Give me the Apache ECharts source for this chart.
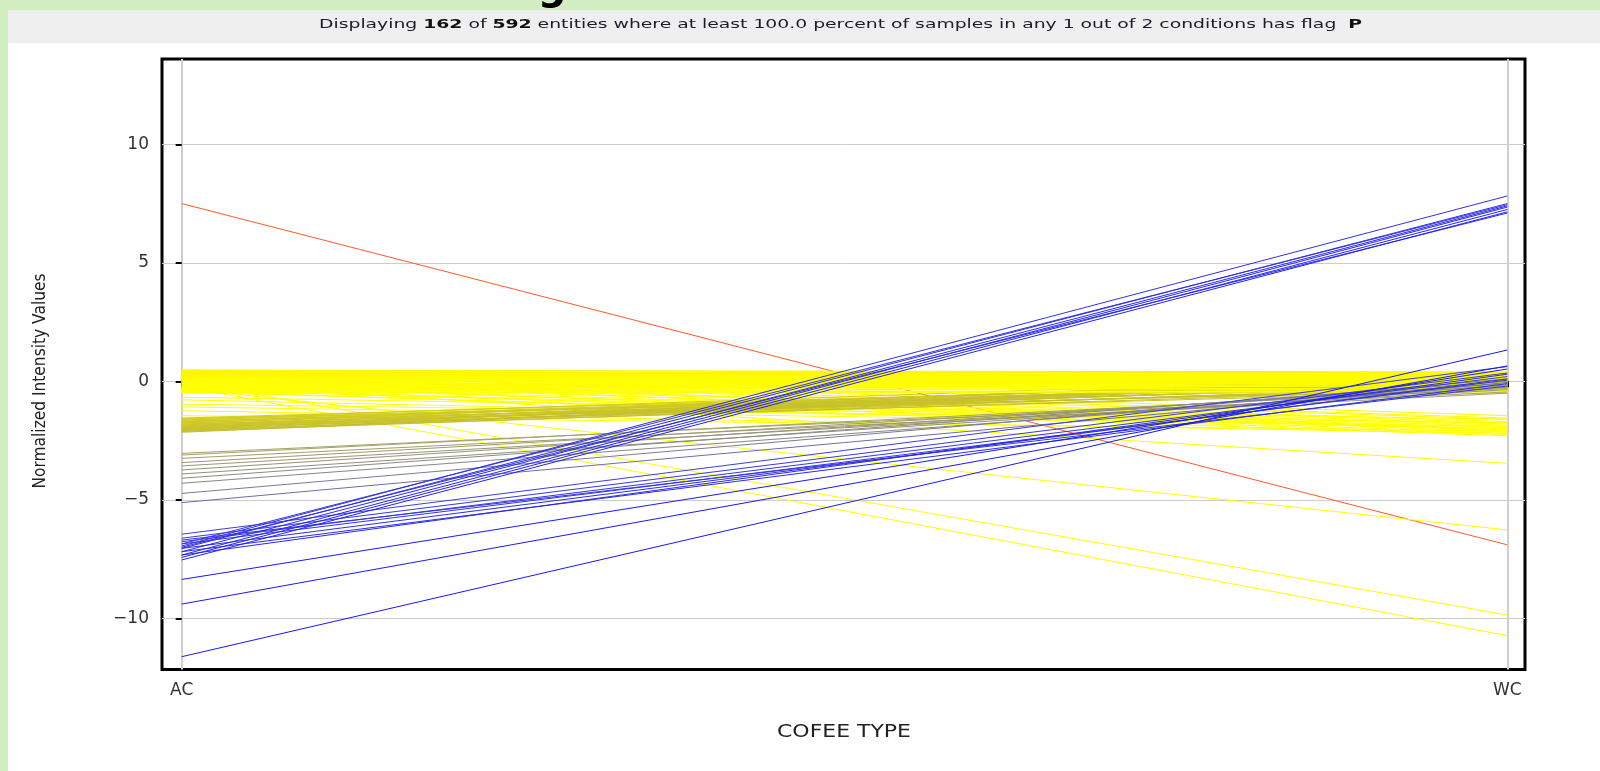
<!DOCTYPE html>
<html>
<head>
<meta charset="utf-8">
<script src="https://cdn.jsdelivr.net/npm/echarts@6/dist/echarts.min.js"></script>
<style>
  html, body { margin: 0; padding: 0; background: #d3eec2; }
  #chart { width: 1600px; height: 771px; }
</style>
</head>
<body>
<div id="chart"></div>
<script>
// Conditions on the x axis and tick values on the y axis
const categories = ['AC', 'WC'];
const yTicks = [-10, -5, 0, 5, 10];

// Entity profiles: normalized intensity at AC and at WC
const acRed = [7.5];
const wcRed = [-6.9];

const acBlueUp = [-6.95, -7.05, -6.86, -7.19, -7.33, -7.43, -7.54, -7.0];
const wcBlueUp = [7.82, 7.5, 7.45, 7.4, 7.35, 7.25, 7.15, 7.1];

const acBlueLow = [-6.45, -6.62, -6.77, -6.86, -7.05, -7.19, -7.33, -6.7, -8.36, -9.40, -11.62];
const wcBlueLow = [0.62, 0.35, 0.2, 0.05, 0.1, -0.1, 0.3, -0.2, 0.52, 0.65, 1.32];

const acGray = [-3.04, -3.11, -3.25, -3.43, -3.57, -3.74, -3.91, -4.09, -4.3, -4.73, -5.12];
const wcGray = [-0.45, -0.3, -0.5, -0.2, -0.35, -0.1, -0.25, 0.0, -0.15, 0.1, -0.05];

const acOlive = [-1.55, -1.58, -1.6, -1.63, -1.65, -1.68, -1.7, -1.72, -1.75, -1.77,
                 -1.8, -1.82, -1.84, -1.86, -1.88, -1.9, -1.92, -1.94, -1.96, -1.98,
                 -2.0, -2.02, -2.04, -2.06, -2.08, -2.1, -2.12, -2.15];
const wcOlive = [0.1, -0.2, 0.3, -0.05, 0.15, -0.35, 0.05, 0.2, -0.15, 0.25,
                 -0.3, 0.0, 0.1, -0.25, 0.3, -0.1, 0.05, -0.4, 0.2, -0.2,
                 0.15, -0.05, 0.35, -0.3, 0.0, 0.1, -0.15, 0.25];

const acYellowMid = [-0.67, -0.78, -0.96, -1.08, -1.24, -1.45];
const wcYellowMid = [-1.6, -2.0, -1.75, -1.9, -2.2, -2.1];

const acYellowFlat = [0.48, 0.46, 0.45, 0.43, 0.42, 0.40, 0.38, 0.37, 0.35, 0.33,
                      0.32, 0.30, 0.28, 0.27, 0.25, 0.23, 0.22, 0.20, 0.18, 0.17,
                      0.15, 0.13, 0.12, 0.10, 0.08, 0.07, 0.05, 0.03, 0.02, 0.00,
                      -0.02, -0.03, -0.05, -0.07, -0.08, -0.10, -0.12, -0.13, -0.15, -0.17,
                      -0.18, -0.20, -0.22, -0.23, -0.25, -0.27, -0.28, -0.30, -0.32, -0.33,
                      -0.35, -0.37, -0.38, -0.40, -0.42, -0.43, -0.45, -0.47, -0.48, -0.50,
                      0.41, 0.19, -0.06, -0.26, -0.44];
const wcYellowFlat = [0.35, 0.20, 0.40, 0.10, 0.30, -0.10, 0.25, 0.05, 0.38, 0.15,
                      -0.20, 0.30, 0.00, 0.22, -0.05, 0.32, 0.12, -0.30, 0.28, 0.08,
                      0.36, -0.15, 0.18, 0.02, 0.26, -0.25, 0.14, 0.33, -0.08, 0.20,
                      0.06, -0.35, 0.24, 0.10, -0.12, 0.30, 0.00, -0.40, 0.16, 0.04,
                      -0.22, 0.27, -0.02, 0.12, -0.32, 0.20, 0.08, -0.18, 0.34, -0.06,
                      0.14, -0.45, 0.22, 0.02, -0.28, 0.10, -0.10, 0.30, -0.38, 0.06,
                      0.18, -0.16, 0.26, -0.04, -0.50];

const acYellowDown = [0.4, 0.3, 0.2, 0.1, 0.05, -0.05, -0.15, -0.2, -0.3, -0.35, -0.45, 0.35, 0.15, -0.1, -0.25, -0.4];
const wcYellowDown = [-1.45, -1.55, -1.6, -1.7, -1.75, -1.8, -1.85, -1.9, -1.95, -2.0, -2.05, -2.1, -2.15, -2.2, -2.25, -2.3];

const acYellowFar = [-0.1, -0.3, 0.0, -0.2];
const wcYellowFar = [-3.46, -6.27, -9.86, -10.73];

// Colour ramp keyed on the AC value (blue low, yellow middle, red high)
const rampStops = [
  [-8.0, [25, 25, 245]],
  [-6.5, [60, 60, 220]],
  [-5.1, [110, 110, 172]],
  [-4.3, [135, 135, 140]],
  [-3.0, [168, 164, 100]],
  [-2.2, [196, 190, 48]],
  [-1.55, [212, 206, 30]],
  [-1.45, [255, 255, 0]],
  [0.0, [255, 255, 0]],
  [7.5, [255, 88, 40]]
];
function rampColor(v) {
  if (v <= rampStops[0][0]) return rgb(rampStops[0][1]);
  for (let i = 1; i < rampStops.length; i++) {
    const [v1, c1] = rampStops[i];
    if (v <= v1) {
      const [v0, c0] = rampStops[i - 1];
      const t = (v - v0) / (v1 - v0);
      return rgb(c0.map((c, k) => c + (c1[k] - c) * t));
    }
  }
  return rgb(rampStops[rampStops.length - 1][1]);
}
function rgb(c) { return 'rgb(' + c.map(Math.round).join(',') + ')'; }

// Painting order: red underneath, falling yellow profiles under the olive band,
// flat yellow profiles over it, gray and blue on top
const groups = [
  [acRed, wcRed], [acYellowDown, wcYellowDown], [acYellowMid, wcYellowMid],
  [acYellowFar, wcYellowFar], [acOlive, wcOlive], [acYellowFlat, wcYellowFlat],
  [acGray, wcGray], [acBlueLow, wcBlueLow], [acBlueUp, wcBlueUp]
];
const profiles = [];
groups.forEach(([ac, wc]) => {
  const g = ac.map((a, i) => [a, wc[i]]);
  g.sort((p, q) => q[0] - p[0]);
  profiles.push(...g);
});

const series = profiles.map(([a, w]) => ({
  type: 'line',
  data: [[0, a], [1, w]],
  symbol: 'none',
  silent: true,
  animation: false,
  lineStyle: { color: rampColor(a), width: 1 }
}));

// Plot frame geometry
const gridLeft = 162, gridRight = 75, gridTop = 59, gridBottom = 101.5;
const xMin = -0.01486, xMax = 1.01335;
const yMin = -12.16, yMax = 13.6;

// Text measurement for the stretched labels
const mctx = document.createElement('canvas').getContext('2d');
function textWidth(str, font) { mctx.font = font; return mctx.measureText(str).width; }

const fam = '"DejaVu Sans", sans-serif';
const headParts = [
  ['Displaying ', false], ['162', true], [' of ', false], ['592', true],
  [' entities where at least 100.0 percent of samples in any 1 out of 2 conditions has flag  ', false],
  ['P', true]
];
const headSize = 13;
let headW = 0;
headParts.forEach(([s, b]) => { headW += textWidth(s, (b ? 'bold ' : '') + headSize + 'px ' + fam); });
const headText = headParts.map(([s, b]) => b ? '{b|' + s + '}' : '{n|' + s + '}').join('');

const yTitle = 'Normalized Intensity Values';
const yTitleSize = 18;
const yTitleScale = 215 / textWidth(yTitle, yTitleSize + 'px ' + fam);

const xTitle = 'COFEE TYPE';
const xTitleSize = 18;
const xTitleScale = 134 / textWidth(xTitle, xTitleSize + 'px ' + fam);

const chart = echarts.init(document.getElementById('chart'), null, { renderer: 'canvas' });
chart.setOption({
  backgroundColor: '#d3eec2',
  animation: false,
  grid: {
    left: gridLeft, right: gridRight, top: gridTop, bottom: gridBottom,
    show: true, borderColor: '#000', borderWidth: 3, backgroundColor: '#fff'
  },
  xAxis: {
    type: 'value', min: xMin, max: xMax, interval: 1,
    axisLine: { show: false },
    axisTick: { show: true, customValues: [0, 1], length: 6, inside: false, lineStyle: { color: '#000', width: 2 } },
    axisLabel: {
      customValues: [0, 1], formatter: v => categories[Math.round(v)] || '',
      color: '#333', fontFamily: fam, fontSize: 17, margin: 13
    },
    splitLine: { show: true, lineStyle: { color: '#cfcfcf', width: 2 } }
  },
  yAxis: {
    type: 'value', min: yMin, max: yMax, interval: 5,
    axisLine: { show: false },
    axisTick: { show: true, customValues: yTicks, length: 6, lineStyle: { color: '#000', width: 2 } },
    axisLabel: {
      customValues: yTicks,
      formatter: v => (v < 0 ? '\u2212' + Math.abs(v) : String(v)),
      color: '#333', fontFamily: fam, fontSize: 17, margin: 13
    },
    splitLine: { show: true, lineStyle: { color: '#cccccc', width: 1 } }
  },
  graphic: [
    { type: 'rect', z: -10, shape: { x: 8, y: 10, width: 1592, height: 761 }, style: { fill: '#ffffff' } },
    { type: 'rect', z: -9, shape: { x: 8, y: 10, width: 1592, height: 33 }, style: { fill: '#efefef' } },
    {
      type: 'text', z: 10, x: 840.5, y: 25, scaleX: 1043 / headW,
      style: {
        text: headText, align: 'center', verticalAlign: 'middle',
        rich: {
          n: { fontSize: headSize, fontFamily: fam, fill: '#1c1c2a' },
          b: { fontSize: headSize, fontFamily: fam, fontWeight: 'bold', fill: '#111' }
        }
      }
    },
    {
      type: 'text', z: 10, x: 40, y: 381, rotation: Math.PI / 2, scaleX: yTitleScale,
      style: { text: yTitle, align: 'center', verticalAlign: 'middle', fontSize: yTitleSize, fontFamily: fam, fill: '#222' }
    },
    {
      type: 'text', z: 10, x: 844, y: 732, scaleX: xTitleScale,
      style: { text: xTitle, align: 'center', verticalAlign: 'middle', fontSize: xTitleSize, fontFamily: fam, fill: '#222' }
    },
    {
      type: 'text', z: -11, x: 552, y: -11,
      style: { text: 'g', align: 'center', verticalAlign: 'middle', fontSize: 40, fontFamily: fam, fontWeight: 'bold', fill: '#000' }
    }
  ],
  series: series
});
</script>
</body>
</html>
